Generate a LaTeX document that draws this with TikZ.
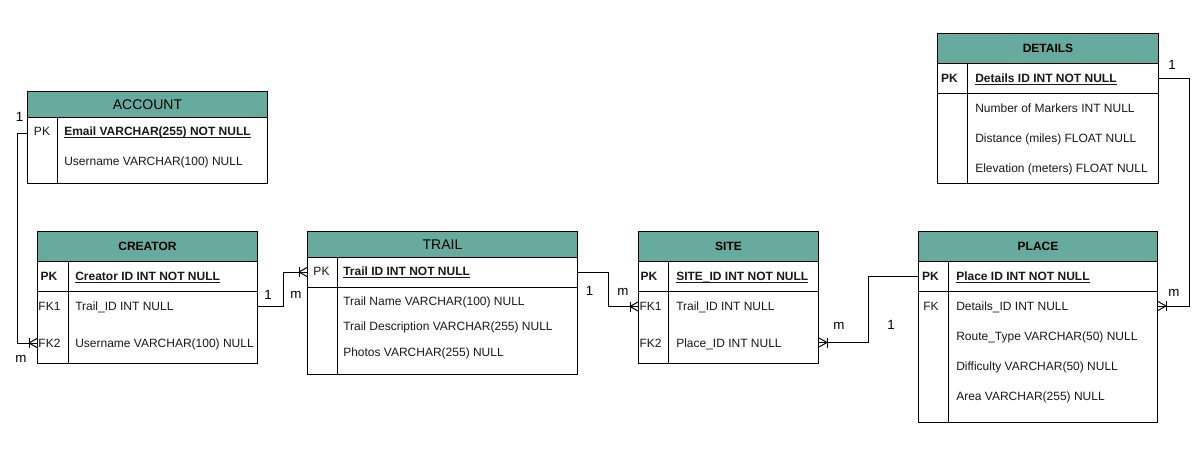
\documentclass[tikz,border=0pt]{standalone}
\usepackage{fontspec}
\setmainfont{Liberation Sans}
\usetikzlibrary{calc}
\definecolor{hdrfill}{HTML}{67AB9F}
\newcommand\fsR{\fontsize{9pt}{11pt}\selectfont}
\newcommand\fsH{\fontsize{10.5pt}{12.5pt}\selectfont}
\newcommand\fsL{\fontsize{10pt}{12pt}\selectfont}
\newcommand\pkUnder[1]{\setbox0\hbox{#1}\rlap{\rule[-1.4pt]{\wd0}{0.7pt}}\box0}
\newcommand\erCrow[2]{%
  \draw[conn] ($(#1)+(#2*8,-5)$) -- ($(#1)+(#2*8,5)$);
  \draw[conn] ($(#1)+(#2*8,0)$) -- ($(#1)+(0,-4.5)$);
  \draw[conn] ($(#1)+(#2*8,0)$) -- ($(#1)+(0,4.5)$);}
\begin{document}
\begin{tikzpicture}[x=0.75pt,y=-0.75pt,
  tbl/.style={draw=black, line width=0.75pt, fill=white, inner sep=0pt, anchor=north west},
  hdr/.style={draw=black, line width=0.75pt, fill=hdrfill, inner sep=0pt, anchor=north west},
  hdrL/.style={hdr, font=\fsH},
  hdrB/.style={hdr, font=\fsR\bfseries},
  rowtxt/.style={font=\fsR, inner sep=0pt, anchor=base west, yshift=-3.2pt, text=black!90},
  keytxt/.style={font=\fsR, inner sep=0pt, anchor=base, yshift=-3.2pt, text=black!90},
  lbl/.style={font=\fsL, inner sep=0pt},
  conn/.style={draw=black, line width=0.75pt},
  sepl/.style={draw=black, line width=0.75pt}]
\useasboundingbox[fill=white] (0,0) rectangle (1200,450);

% ---------- ACCOUNT ----------
\node[tbl, minimum width=240*0.75pt, minimum height=92*0.75pt] (account) at (27,91) {};
\node[hdrL, minimum width=240*0.75pt, minimum height=26*0.75pt] (account-h) at (27,91) {ACCOUNT};
\draw[sepl] (57,117) -- (57,183);
\node[keytxt] (acc-k1) at (42,131.7) {PK};
\node[rowtxt] (acc-r1) at (64,131.7) {\pkUnder{\bfseries Email VARCHAR(255) NOT NULL}};
\node[rowtxt] (acc-r2) at (64,161.7) {Username VARCHAR(100) NULL};

% ---------- CREATOR ----------
\node[tbl, minimum width=220*0.75pt, minimum height=132*0.75pt] (creator) at (37,231) {};
\node[hdrB, minimum width=220*0.75pt, minimum height=30*0.75pt] (creator-h) at (37,231) {CREATOR};
\draw[sepl] (37,291) -- (257,291);
\draw[sepl] (68,261) -- (68,363);
\node[keytxt, font=\fsR\bfseries] (cre-k1) at (49,276.7) {PK};
\node[rowtxt] (cre-r1) at (75,276.7) {\pkUnder{\bfseries Creator ID INT NOT NULL}};
\node[keytxt] (cre-k2) at (49.5,306) {FK1};
\node[rowtxt] (cre-r2) at (75,306) {Trail\_ID INT NULL};
\node[keytxt] (cre-k3) at (49.5,343) {FK2};
\node[rowtxt] (cre-r3) at (75,343) {Username VARCHAR(100) NULL};

% ---------- TRAIL ----------
\node[tbl, minimum width=270*0.75pt, minimum height=143*0.75pt] (trail) at (307,231) {};
\node[hdrL, minimum width=270*0.75pt, minimum height=26*0.75pt] (trail-h) at (307,231) {TRAIL};
\draw[sepl] (307,287) -- (577,287);
\draw[sepl] (337,257) -- (337,374);
\node[keytxt] (trl-k1) at (321.5,271.7) {PK};
\node[rowtxt] (trl-r1) at (343,271.7) {\pkUnder{\bfseries Trail ID INT NOT NULL}};
\node[rowtxt] (trl-r2) at (343,301) {Trail Name VARCHAR(100) NULL};
\node[rowtxt] (trl-r3) at (343,326.5) {Trail Description VARCHAR(255) NULL};
\node[rowtxt] (trl-r4) at (343,352) {Photos VARCHAR(255) NULL};

% ---------- SITE ----------
\node[tbl, minimum width=180*0.75pt, minimum height=132*0.75pt] (site) at (638,231) {};
\node[hdrB, minimum width=180*0.75pt, minimum height=30*0.75pt] (site-h) at (638,231) {SITE};
\draw[sepl] (638,291) -- (818,291);
\draw[sepl] (668,261) -- (668,363);
\node[keytxt, font=\fsR\bfseries] (sit-k1) at (649,276.7) {PK};
\node[rowtxt] (sit-r1) at (676,276.7) {\pkUnder{\bfseries SITE\_ID INT NOT NULL}};
\node[keytxt] (sit-k2) at (650.5,306) {FK1};
\node[rowtxt] (sit-r2) at (676,306) {Trail\_ID INT NULL};
\node[keytxt] (sit-k3) at (650.5,343) {FK2};
\node[rowtxt] (sit-r3) at (676,343) {Place\_ID INT NULL};

% ---------- PLACE ----------
\node[tbl, minimum width=239*0.75pt, minimum height=191*0.75pt] (place) at (918,231) {};
\node[hdrB, minimum width=239*0.75pt, minimum height=30*0.75pt] (place-h) at (918,231) {PLACE};
\draw[sepl] (918,291) -- (1157,291);
\draw[sepl] (948,261) -- (948,422);
\node[keytxt, font=\fsR\bfseries] (plc-k1) at (930.5,276.7) {PK};
\node[rowtxt] (plc-r1) at (956,276.7) {\pkUnder{\bfseries Place ID INT NOT NULL}};
\node[keytxt] (plc-k2) at (931,306) {FK};
\node[rowtxt] (plc-r2) at (956,306) {Details\_ID INT NULL};
\node[rowtxt] (plc-r3) at (956,336) {Route\_Type VARCHAR(50) NULL};
\node[rowtxt] (plc-r4) at (956,366.5) {Difficulty VARCHAR(50) NULL};
\node[rowtxt] (plc-r5) at (956,396.5) {Area VARCHAR(255) NULL};

% ---------- DETAILS ----------
\node[tbl, minimum width=221*0.75pt, minimum height=150*0.75pt] (details) at (937,33) {};
\node[hdrB, minimum width=221*0.75pt, minimum height=30*0.75pt] (details-h) at (937,33) {DETAILS};
\draw[sepl] (937,93) -- (1158,93);
\draw[sepl] (967,63) -- (967,183);
\node[keytxt, font=\fsR\bfseries] (det-k1) at (949.5,78.3) {PK};
\node[rowtxt] (det-r1) at (975,78.3) {\pkUnder{\bfseries Details ID INT NOT NULL}};
\node[rowtxt] (det-r2) at (975,108.5) {Number of Markers INT NULL};
\node[rowtxt] (det-r3) at (975,138) {Distance (miles) FLOAT NULL};
\node[rowtxt] (det-r4) at (975,168) {Elevation (meters) FLOAT NULL};

% ---------- connector end points ----------
\coordinate (accPK)  at (account.west |- 0,133);
\coordinate (creFK1) at (creator.east |- 0,306);
\coordinate (creFK2) at (creator.west |- 0,343);
\coordinate (trlPKw) at (trail.west |- 0,272);
\coordinate (trlPKe) at (trail.east |- 0,272);
\coordinate (sitFK1) at (site.west |- 0,306.5);
\coordinate (sitFK2) at (site.east |- 0,342.5);
\coordinate (plcPK)  at (place.west |- 0,276);
\coordinate (plcFK)  at (place.east |- 0,306);
\coordinate (detPK)  at (details.east |- 0,78);

% ---------- connectors ----------
\draw[conn] (accPK) -- ++(-10,0) |- (creFK2);
\draw[conn] (creFK1) -- ++(25,0) |- (trlPKw);
\draw[conn] (trlPKe) -- ++(30,0) |- (sitFK1);
\draw[conn] (sitFK2) -- ++(49,0) |- (plcPK);
\draw[conn] (detPK) -- ++(30,0) |- (plcFK);

\erCrow{creFK2}{-1}
\erCrow{trlPKw}{-1}
\erCrow{sitFK1}{-1}
\erCrow{sitFK2}{1}
\erCrow{plcFK}{1}

% ---------- cardinality labels ----------
\node[lbl] (c1) at (19.5,117) {1};
\node[lbl] (c2) at (21,359) {m};
\node[lbl] (c3) at (268,295) {1};
\node[lbl] (c4) at (296,295) {m};
\node[lbl] (c5) at (589.5,291) {1};
\node[lbl] (c6) at (623,292) {m};
\node[lbl] (c7) at (839,326) {m};
\node[lbl] (c8) at (891,325) {1};
\node[lbl] (c9) at (1172,65) {1};
\node[lbl] (c10) at (1174,293) {m};
\end{tikzpicture}
\end{document}
